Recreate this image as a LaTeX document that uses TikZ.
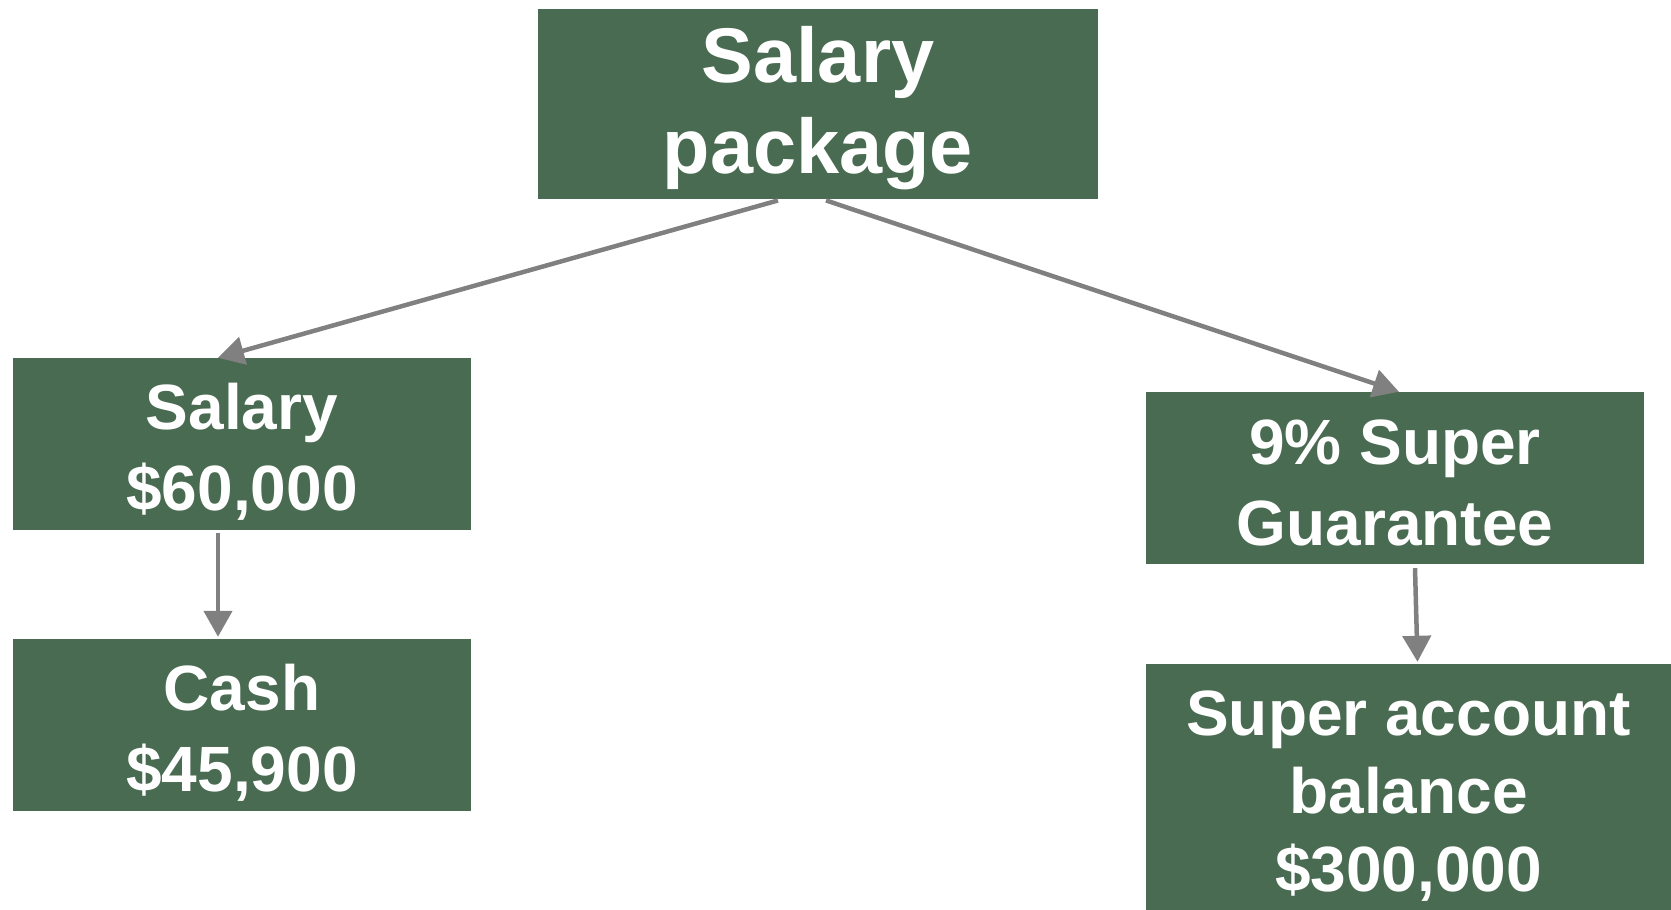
\documentclass[tikz,border=0pt]{standalone}
\usepackage{fontspec}
\setmainfont{Liberation Sans}
\usetikzlibrary{arrows.meta,calc}
\definecolor{boxgreen}{RGB}{73,107,81}
\definecolor{linkgray}{RGB}{128,128,128}
\tikzset{
  card/.style={rectangle, fill=boxgreen, inner sep=0pt},
  words/.style={text=white, align=center, inner sep=0pt},
  bigtext/.style={words, font=\bfseries\fontsize{77.5}{91}\selectfont},
  midtext/.style={words, font=\bfseries\fontsize{64}{81}\selectfont},
  tighttext/.style={words, font=\bfseries\fontsize{64}{78}\selectfont},
  link/.style={draw=linkgray, line width=4.5pt,
    -{Triangle[width=28pt,length=26pt]}}
}
\begin{document}
\begin{tikzpicture}[x=1pt,y=-1pt]
\useasboundingbox (0,0) rectangle (1671,910);

\node[card, minimum width=560pt, minimum height=190.5pt,
  label={[bigtext, yshift=-4pt]center:{Salary\\package}}] (pkg) at (818,104) {};
\node[card, minimum width=458pt, minimum height=172pt,
  label={[midtext, yshift=-7.5pt]center:{Salary\\\$60,000}}] (sal) at (242,444) {};
\node[card, minimum width=458pt, minimum height=172pt,
  label={[midtext, yshift=-7.5pt]center:{Cash\\\$45,900}}] (cash) at (242,725) {};
\node[card, minimum width=498pt, minimum height=172pt,
  label={[midtext, yshift=-5pt]center:{9\% Super\\Guarantee}}] (sg) at (1395,478) {};
\node[card, minimum width=525pt, minimum height=246pt,
  label={[tighttext, yshift=-9pt]center:{Super account\\balance\\\$300,000}}] (acc) at (1408.5,787) {};

\draw[link] ($(pkg.south)+(-40,1)$) -- ($(sal.north)+(-24,0)$);
\draw[link] ($(pkg.south)+(8,1)$) -- ($(sg.north)+(4,0)$);
\draw[link] ($(sal.south)+(-24,3)$) -- ($(cash.north)+(-24,-2)$);
\draw[link] ($(sg.south)+(20,4)$) -- ($(acc.north)+(9,-2)$);
\end{tikzpicture}
\end{document}
